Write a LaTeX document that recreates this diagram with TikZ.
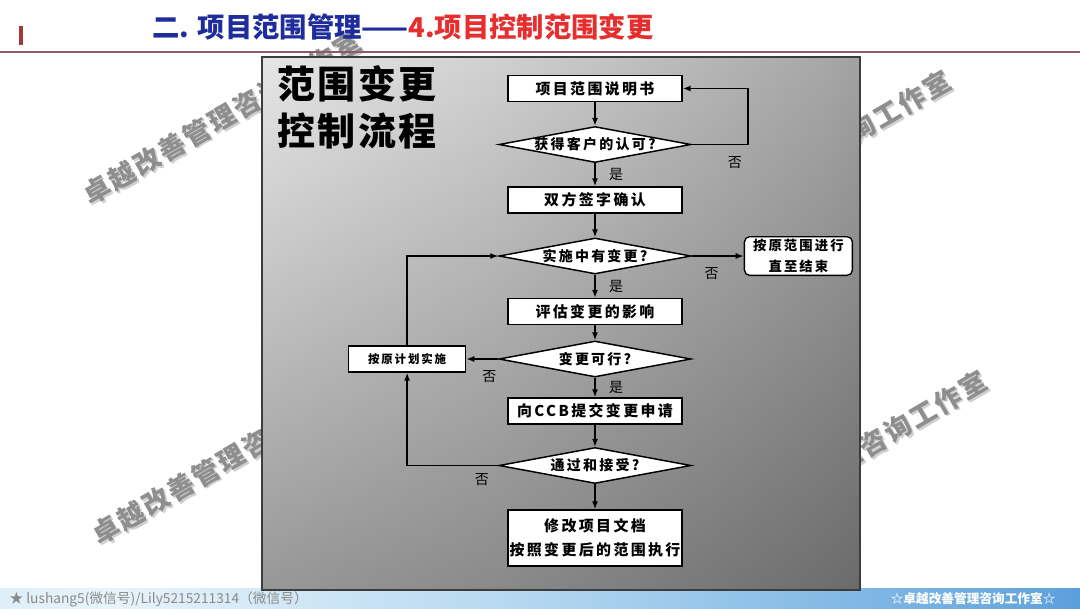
\documentclass[tikz,border=0pt]{standalone}
\usepackage{fontspec}
\setmainfont{Noto Sans CJK SC}
\newfontfamily\boxfont{Noto Sans CJK SC}[LetterSpace=16]
\newfontfamily\wmfont{Noto Sans CJK SC}[LetterSpace=8]
\newfontfamily\headfont{Noto Sans CJK SC}[LetterSpace=6]
\usetikzlibrary{positioning, shapes.geometric, arrows.meta, fadings}

\definecolor{titleblue}{HTML}{1E2C9C}
\definecolor{titlered}{HTML}{E62E2E}
\definecolor{barred}{HTML}{A33A3A}
\definecolor{linecol}{HTML}{8C5C66}
\definecolor{wmgray}{HTML}{8E8E8E}
\definecolor{wmshade}{HTML}{D0D0D0}
\definecolor{footgray}{HTML}{8A8A8A}
\definecolor{panelborder}{HTML}{3C3C3C}
% bottom bar colours
\definecolor{bA}{HTML}{A3CFEE}
\definecolor{bB}{HTML}{D0E8F7}
\definecolor{bC}{HTML}{E8F4FB}
\definecolor{bD}{HTML}{B2D6F0}
\definecolor{bE}{HTML}{68A8DF}
\definecolor{bF}{HTML}{2D80CF}
\definecolor{bG}{HTML}{1565C2}
% panel colours
\definecolor{pA}{HTML}{F5F5F5}
\definecolor{pB}{HTML}{E6E6E6}
\definecolor{pC}{HTML}{D0D0D0}
\definecolor{pD}{HTML}{A8A8A8}
\definecolor{pE}{HTML}{888888}
\definecolor{pF}{HTML}{6E6E6E}

\pgfdeclarehorizontalshading{barshade}{100bp}{color(0bp)=(bA); color(18bp)=(bB); color(30bp)=(bC); color(50bp)=(bD); color(72bp)=(bE); color(85bp)=(bF); color(100bp)=(bG)}
\pgfdeclarehorizontalshading{panelshade}{100bp}{color(0bp)=(pA); color(25bp)=(pB); color(45bp)=(pC); color(72bp)=(pD); color(88bp)=(pE); color(100bp)=(pF)}
\tikzfading[name=fadedown, top color=transparent!100, middle color=transparent!92, bottom color=transparent!66]

\begin{document}
\begin{tikzpicture}[x=0.75pt, y=-0.75pt, thick,
    proc/.style = {draw, fill=white, line width=1.1pt, minimum width=130.5pt, minimum height=19.5pt, inner sep=0pt, align=center, font=\boxfont\bfseries\fontsize{11.2}{18}\selectfont},
    decide/.style = {draw, diamond, fill=white, line width=1.1pt, aspect=1, minimum width=144pt, minimum height=27pt, inner sep=0pt, font=\boxfont\bfseries\fontsize{10.5}{12}\selectfont},
    endbox/.style = {draw, fill=white, rounded corners=4pt, line width=1pt, minimum width=81pt, minimum height=29pt, inner sep=1pt, align=center, font=\boxfont\bfseries\fontsize{10}{15.75}\selectfont},
    sidebox/.style = {draw, fill=white, line width=1pt, minimum width=87.75pt, minimum height=19.5pt, inner sep=0pt, font=\boxfont\bfseries\fontsize{8.6}{10}\selectfont},
    lbl/.style = {inner sep=1pt, font=\fontsize{10.5}{12}\selectfont},
    arr/.style = {-{Latex[length=6pt,width=4.6pt]}, line width=1.3pt},
    wm/.style = {rotate=30, inner sep=0pt, font=\wmfont\bfseries\fontsize{20}{20}\selectfont}]
\useasboundingbox (0,0) rectangle (1080,608);
\fill[white] (0,0) rectangle (1080,608);

% watermarks
\foreach \wx/\wy [count=\i] in {222/118, 812/157, 231/458, 848/457} {
    \node[wm, text=wmshade] (wms\i) at (\wx+1.8,\wy+1.8) {卓越改善管理咨询工作室};
    \node[wm, text=wmgray] (wm\i) at (\wx,\wy) {卓越改善管理咨询工作室};
}

% heading
\fill[barred] (19,26) rectangle (23,45);
\node[anchor=west, inner sep=0pt, font=\bfseries\fontsize{20.5}{24}\selectfont] (title) at (152,27)
    {\textcolor{titleblue}{二. 项目范围管理——}\textcolor{titlered}{4.项目控制范围变更}};
\draw[linecol, line width=0.8pt] (0,52) -- (1080,52);

% bottom bar
\shade[shading=barshade] (0,588) rectangle (1080,608);
\node[anchor=west, inner sep=0pt, text=footgray, font=\fontsize{10.3}{12}\selectfont] (foot) at (9,599)
    {★ lushang5(微信号)/Lily5215211314（微信号）};
\node[anchor=east, inner sep=0pt, text=white, font=\bfseries\fontsize{9.5}{11}\selectfont] (studio) at (1056,599)
    {☆卓越改善管理咨询工作室☆};

% panel
\shade[shading=panelshade] (262,57) rectangle (860,590);
\fill[black, path fading=fadedown] (262,57) rectangle (860,590);
\draw[panelborder, line width=0.8pt] (262,57) rectangle (860,590);
\node[anchor=center, align=left, inner sep=0pt, font=\headfont\bfseries\fontsize{28.5}{35}\selectfont] (head) at (357,107)
    {范围变更\\控制流程};

% flow
\node[proc] (1) at (595,88.5) {项目范围说明书};
\node[decide] (2) at (595,144.5) {\makebox[0pt]{获得客户的认可?}};
\node[proc] (3) at (595,200) {双方签字确认};
\node[decide] (4) at (595,256) {\makebox[0pt]{实施中有变更?}};
\node[endbox] (5) [right=39pt of 4] {按原范围进行\\直至结束};
\node[proc] (6) at (595,311.5) {评估变更的影响};
\node[decide] (7) at (595,359) {\makebox[0pt]{变更可行?}};
\node[sidebox] (8) [left=24pt of 7] {按原计划实施};
\node[proc] (9) at (595,411) {向CCB提交变更申请};
\node[decide] (10) at (595,465.5) {\makebox[0pt]{通过和接受?}};
\node[proc, minimum height=42pt] (11) at (595,538) {修改项目文档\\按照变更后的范围执行};

\draw[arr] (1) -- (2);
\draw[arr] (2) -- node[lbl, right=9pt] {是} (3);
\draw[arr] (2.east) -- node[lbl, pos=.77, below=7pt] {否} ++(56,0) |- (1.east);
\draw[arr] (3) -- (4);
\draw[arr] (4) -- node[lbl, pos=.38, below=7pt] {否} (5);
\draw[arr] (4) -- node[lbl, right=9pt] {是} (6);
\draw[arr] (6) -- (7);
\draw[arr] (7) -- node[lbl, pos=.28, below=7pt] {否} (8);
\draw[arr] (7) -- node[lbl, right=9pt] {是} (9);
\draw[arr] (9) -- (10);
\draw[arr] (10) -- (11);
\draw[arr] (10.west) -| node[lbl, pos=.09, below=4pt] {否} (8.south);
\draw[arr] (8) |- (4.west);
\end{tikzpicture}
\end{document}
